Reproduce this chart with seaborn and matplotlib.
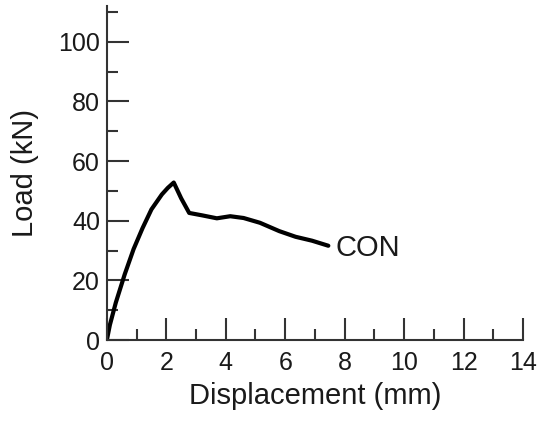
import pandas as pd
import matplotlib.pyplot as plt
from matplotlib.ticker import MultipleLocator
import seaborn as sns

# Load-displacement curve
displacement = [0.0, 0.1, 0.3, 0.6, 0.9, 1.2, 1.5, 1.85, 2.05, 2.25, 2.5, 2.77, 3.2, 3.7, 4.15, 4.6, 5.15, 5.8, 6.35, 6.9, 7.45]
load = [0.0, 5.0, 12.5, 22.0, 30.5, 37.5, 43.8, 48.8, 51.0, 52.8, 47.5, 42.6, 41.8, 40.8, 41.5, 40.9, 39.3, 36.5, 34.6, 33.3, 31.6]
series_label = "CON"

df = pd.DataFrame({"Displacement": displacement, "Load": load})

sns.set_style("ticks")
plt.rcParams['font.family'] = ['Liberation Sans', 'DejaVu Sans']

fig = plt.figure(figsize=(5.37, 4.25), dpi=100)
ax = fig.add_axes([0.199, 0.2, 0.775, 0.786])

sns.lineplot(data=df, x="Displacement", y="Load", sort=False, estimator=None,
             color="black", linewidth=3.0, ax=ax)
ax.text(displacement[-1] + 0.25, load[-1] - 0.8, series_label, fontsize=21,
        va="center", ha="left", color="#1a1a1a")

ax.set_xlim(0, 14)
ax.set_ylim(0, 112)
ax.xaxis.set_major_locator(MultipleLocator(2))
ax.xaxis.set_minor_locator(MultipleLocator(1))
ax.yaxis.set_major_locator(MultipleLocator(20))
ax.yaxis.set_minor_locator(MultipleLocator(10))
ax.set_yticks(range(0, 101, 20))

ax.tick_params(which="major", direction="in", length=16, width=1.5,
               labelsize=18, color="#333333", labelcolor="#1a1a1a")
ax.tick_params(axis="x", which="major", pad=8)
ax.tick_params(axis="y", which="major", pad=5)
ax.tick_params(which="minor", direction="in", length=8, width=1.5, color="#333333")

for side in ["top", "right"]:
    ax.spines[side].set_visible(False)
for side in ["left", "bottom"]:
    ax.spines[side].set_linewidth(1.5)
    ax.spines[side].set_color("#333333")

ax.set_xlabel("Displacement (mm)", fontsize=21, labelpad=5, color="#1a1a1a")
ax.set_ylabel("Load (kN)", fontsize=21, labelpad=14, color="#1a1a1a")

fig.savefig("out.png", dpi=100)
